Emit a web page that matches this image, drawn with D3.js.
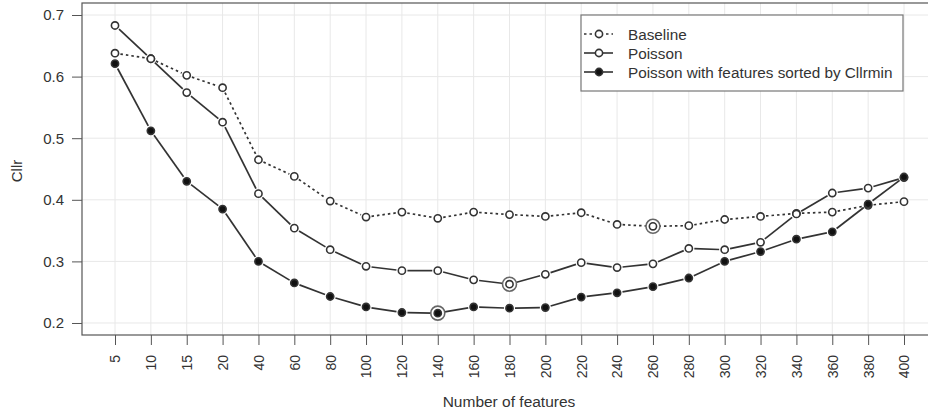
<!DOCTYPE html>
<html>
<head>
<meta charset="utf-8">
<script src="https://cdn.jsdelivr.net/npm/d3@7"></script>
<style>
  html, body { margin: 0; padding: 0; background: #fff; }
  svg { display: block; font-family: "Liberation Sans", Arial, sans-serif; }
</style>
</head>
<body>
<svg id="chart" width="928" height="414"></svg>
<script>
const categories = [5, 10, 15, 20, 40, 60, 80, 100, 120, 140, 160, 180, 200, 220, 240, 260, 280, 300, 320, 340, 360, 380, 400];
const baseline = [0.638, 0.629, 0.602, 0.582, 0.465, 0.438, 0.398, 0.372, 0.380, 0.370, 0.380, 0.376, 0.373, 0.379, 0.360, 0.357, 0.358, 0.368, 0.373, 0.378, 0.380, 0.391, 0.397];
const poisson = [0.683, 0.629, 0.574, 0.526, 0.410, 0.354, 0.319, 0.292, 0.285, 0.285, 0.270, 0.263, 0.279, 0.298, 0.290, 0.296, 0.321, 0.319, 0.331, 0.377, 0.411, 0.419, 0.436];
const poissonSorted = [0.621, 0.512, 0.430, 0.385, 0.300, 0.265, 0.243, 0.226, 0.217, 0.216, 0.226, 0.224, 0.225, 0.242, 0.249, 0.259, 0.273, 0.300, 0.316, 0.336, 0.348, 0.393, 0.437];
const yTicks = [0.2, 0.3, 0.4, 0.5, 0.6, 0.7];
const seriesNames = ["Baseline", "Poisson", "Poisson with features sorted by Cllrmin"];

const svg = d3.select("#chart");
const box = { left: 82, right: 937, top: 3, bottom: 335 };
const x = d3.scalePoint().domain(categories).range([box.left + 33, box.right - 33]);
const y = d3.scaleLinear().domain([0.1805, 0.7195]).range([box.bottom, box.top]);

const ink = "#333";
const font = "Liberation Sans, Arial, sans-serif";
const series = [
  { name: seriesNames[0], values: baseline, dash: "2.5,3", fill: "#fff" },
  { name: seriesNames[1], values: poisson, dash: null, fill: "#fff" },
  { name: seriesNames[2], values: poissonSorted, dash: null, fill: "#111" }
];

// grid
const grid = svg.append("g").attr("stroke", "#e8e8e8").attr("stroke-width", 1);
categories.forEach(c => grid.append("line")
  .attr("x1", x(c)).attr("x2", x(c)).attr("y1", box.top).attr("y2", box.bottom));
yTicks.forEach(t => grid.append("line")
  .attr("x1", box.left).attr("x2", box.right).attr("y1", y(t)).attr("y2", y(t)));

// box
svg.append("rect").attr("x", box.left).attr("y", box.top)
  .attr("width", box.right - box.left).attr("height", box.bottom - box.top)
  .attr("fill", "none").attr("stroke", "#555").attr("stroke-width", 1.2);

// y axis
const yAxis = svg.append("g").attr("transform", `translate(${box.left},0)`)
  .call(d3.axisLeft(y).tickValues(yTicks).tickFormat(d3.format(".1f")).tickSize(10).tickPadding(8));
yAxis.select(".domain").remove();
yAxis.selectAll(".tick line").attr("stroke", "#555");
yAxis.selectAll(".tick text").attr("fill", ink).attr("font-size", 15).attr("font-family", font);

// x axis
const xAxis = svg.append("g").attr("transform", `translate(0,${box.bottom})`)
  .call(d3.axisBottom(x).tickSize(10).tickSizeOuter(0));
xAxis.select(".domain").remove();
xAxis.selectAll(".tick line").attr("stroke", "#555");
xAxis.selectAll(".tick text")
  .attr("fill", ink).attr("font-size", 14).attr("font-family", font)
  .attr("transform", "rotate(-90)")
  .attr("text-anchor", "end")
  .attr("x", -20).attr("y", 0).attr("dy", "0.35em");

// axis titles
svg.append("text").attr("transform", "translate(22,171) rotate(-90)")
  .attr("text-anchor", "middle").attr("fill", ink).attr("font-size", 15).text("Cllr");
svg.append("text").attr("x", 509).attr("y", 407)
  .attr("text-anchor", "middle").attr("fill", ink).attr("font-size", 15.5).text("Number of features");

// lines with gaps around points (type "b")
const gap = 5.5;
series.forEach(s => {
  const pts = categories.map((c, i) => [x(c), y(s.values[i])]);
  const g = svg.append("g").attr("stroke", ink).attr("stroke-width", 1.7)
    .attr("stroke-dasharray", s.dash).attr("fill", "none");
  for (let i = 0; i < pts.length - 1; i++) {
    const [x1, y1] = pts[i], [x2, y2] = pts[i + 1];
    const dx = x2 - x1, dy = y2 - y1, len = Math.hypot(dx, dy);
    if (len <= 2 * gap) continue;
    const ux = dx / len, uy = dy / len;
    g.append("line")
      .attr("x1", x1 + ux * gap).attr("y1", y1 + uy * gap)
      .attr("x2", x2 - ux * gap).attr("y2", y2 - uy * gap);
  }
});

// highlight minima
series.forEach(s => {
  const mi = d3.minIndex(s.values);
  svg.append("circle").attr("cx", x(categories[mi])).attr("cy", y(s.values[mi]))
    .attr("r", 7).attr("fill", "#fff").attr("stroke", "#666").attr("stroke-width", 1.6);
});

// points
series.forEach(s => {
  svg.append("g").selectAll("circle").data(s.values).join("circle")
    .attr("cx", (d, i) => x(categories[i])).attr("cy", d => y(d))
    .attr("r", 3.6).attr("fill", s.fill).attr("stroke", ink).attr("stroke-width", 1.6);
});

// legend
const lg = svg.append("g");
lg.append("rect").attr("x", 581).attr("y", 15).attr("width", 322).attr("height", 76)
  .attr("fill", "#fff").attr("stroke", "#777").attr("stroke-width", 1.2);
series.forEach((s, i) => {
  const cy = 34 + i * 19;
  lg.append("line").attr("x1", 584).attr("x2", 613).attr("y1", cy).attr("y2", cy)
    .attr("stroke", ink).attr("stroke-width", 1.6).attr("stroke-dasharray", s.dash);
  lg.append("circle").attr("cx", 599).attr("cy", cy).attr("r", 3.6)
    .attr("fill", s.fill).attr("stroke", ink).attr("stroke-width", 1.6);
  lg.append("text").attr("x", 628).attr("y", cy).attr("dy", "0.36em")
    .attr("fill", ink).attr("font-size", 15.3).text(s.name);
});
</script>
</body>
</html>
